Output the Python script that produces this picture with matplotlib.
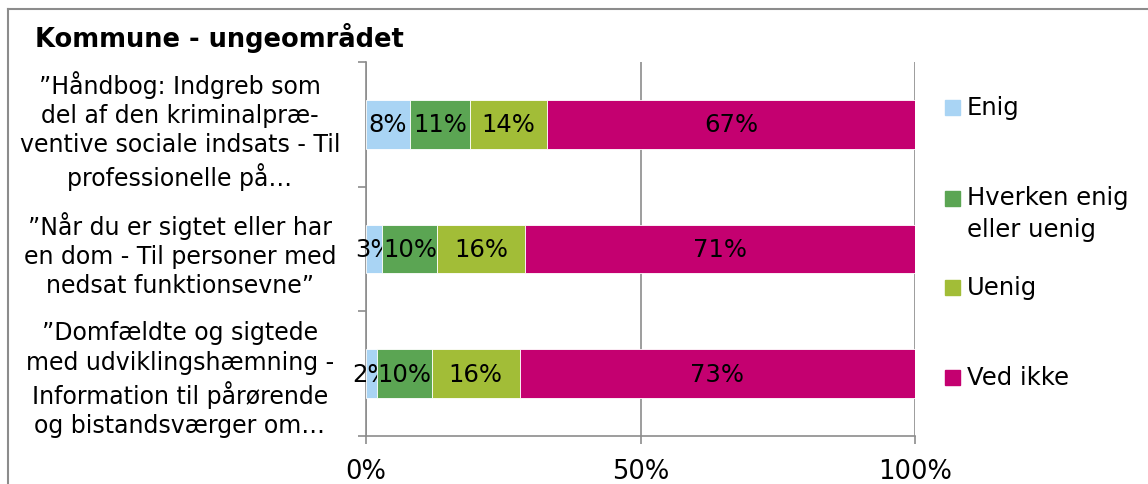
import numpy as np
import matplotlib
matplotlib.use("Agg")
import matplotlib.pyplot as plt
from matplotlib.patches import Rectangle
from matplotlib.lines import Line2D

TITLE = "Kommune - ungeområdet"
CATEGORIES = [
    "\u201dHåndbog: Indgreb som\ndel af den kriminalpræ-\nventive sociale indsats - Til\nprofessionelle på\u2026",
    "\u201dNår du er sigtet eller har\nen dom - Til personer med\nnedsat funktionsevne\u201d",
    "\u201dDomfældte og sigtede\nmed udviklingshæmning -\nInformation til pårørende\nog bistandsværger om\u2026",
]
SERIES = ["Enig", "Hverken enig\neller uenig", "Uenig", "Ved ikke"]
ENIG = [8, 3, 2]
HVERKEN = [11, 10, 10]
UENIG = [14, 16, 16]
VED_IKKE = [67, 71, 73]
COLORS = ["#a9d4f4", "#5ba553", "#a2bd37", "#c40070"]
XTICKS = [0, 50, 100]

W, H = 1148, 485
GRAY = "#8c8c8c"

plt.rcParams["font.family"] = ["DejaVu Sans"]

fig = plt.figure(figsize=(W / 100, H / 100), dpi=100)
ax = fig.add_axes([366 / W, 1 - 437 / H, (915 - 366) / W, (437 - 63) / H])

y = np.arange(len(CATEGORIES))
left = np.zeros(len(CATEGORIES))
for vals, col in zip([ENIG, HVERKEN, UENIG, VED_IKKE], COLORS):
    bars = ax.barh(y, vals, left=left, height=0.39, color=col,
                   edgecolor="white", linewidth=0.6, zorder=3)
    ax.bar_label(bars, labels=[f"{v}%" for v in vals], label_type="center",
                 fontsize=17.5, color="black")
    left += np.array(vals)

ax.set_xlim(0, 100)
ax.set_ylim(len(CATEGORIES) - 0.5, -0.5)
ax.set_xticks(XTICKS)
ax.set_xticklabels([f"{t}%" for t in XTICKS], fontsize=18.5)
ax.set_yticks(y)
ax.set_yticklabels(CATEGORIES, fontsize=17, ha="center", multialignment="center",
                   linespacing=1.28)
ax.set_yticks(np.arange(len(CATEGORIES) + 1) - 0.5, minor=True)
ax.tick_params(axis="y", which="major", length=0, pad=134)
ax.tick_params(axis="y", which="minor", length=6, color=GRAY, width=1.2)
ax.tick_params(axis="x", length=6, color=GRAY, width=1.2, pad=10)

ax.grid(axis="x", color=GRAY, linewidth=1.2, zorder=0)
for s in ["top", "right"]:
    ax.spines[s].set_visible(False)
for s in ["left", "bottom"]:
    ax.spines[s].set_color(GRAY)
    ax.spines[s].set_linewidth(1.2)

fig.text(35 / W, 1 - 38 / H, TITLE, fontsize=18.5, fontweight="bold", va="center")

# legend drawn by hand to match the uneven spacing
leg_y = [108, 214, 288, 378]
box_y = [108, 199, 288, 378]
for lab, col, ty, by in zip(SERIES, COLORS, leg_y, box_y):
    fig.patches.append(Rectangle((945 / W, 1 - (by + 7.5) / H), 15 / W, 15 / H,
                                 transform=fig.transFigure, color=col))
    fig.text(967 / W, 1 - ty / H, lab, fontsize=17.5, va="center", linespacing=1.42)

# chart border, cut off at right and bottom
fig.lines.append(Line2D([8 / W, 8 / W], [0, 1 - 10 / H], transform=fig.transFigure,
                        color=GRAY, linewidth=1.5))
fig.lines.append(Line2D([8 / W, 1], [1 - 10 / H, 1 - 10 / H], transform=fig.transFigure,
                        color=GRAY, linewidth=1.5))

fig.savefig("out.png", dpi=100)
